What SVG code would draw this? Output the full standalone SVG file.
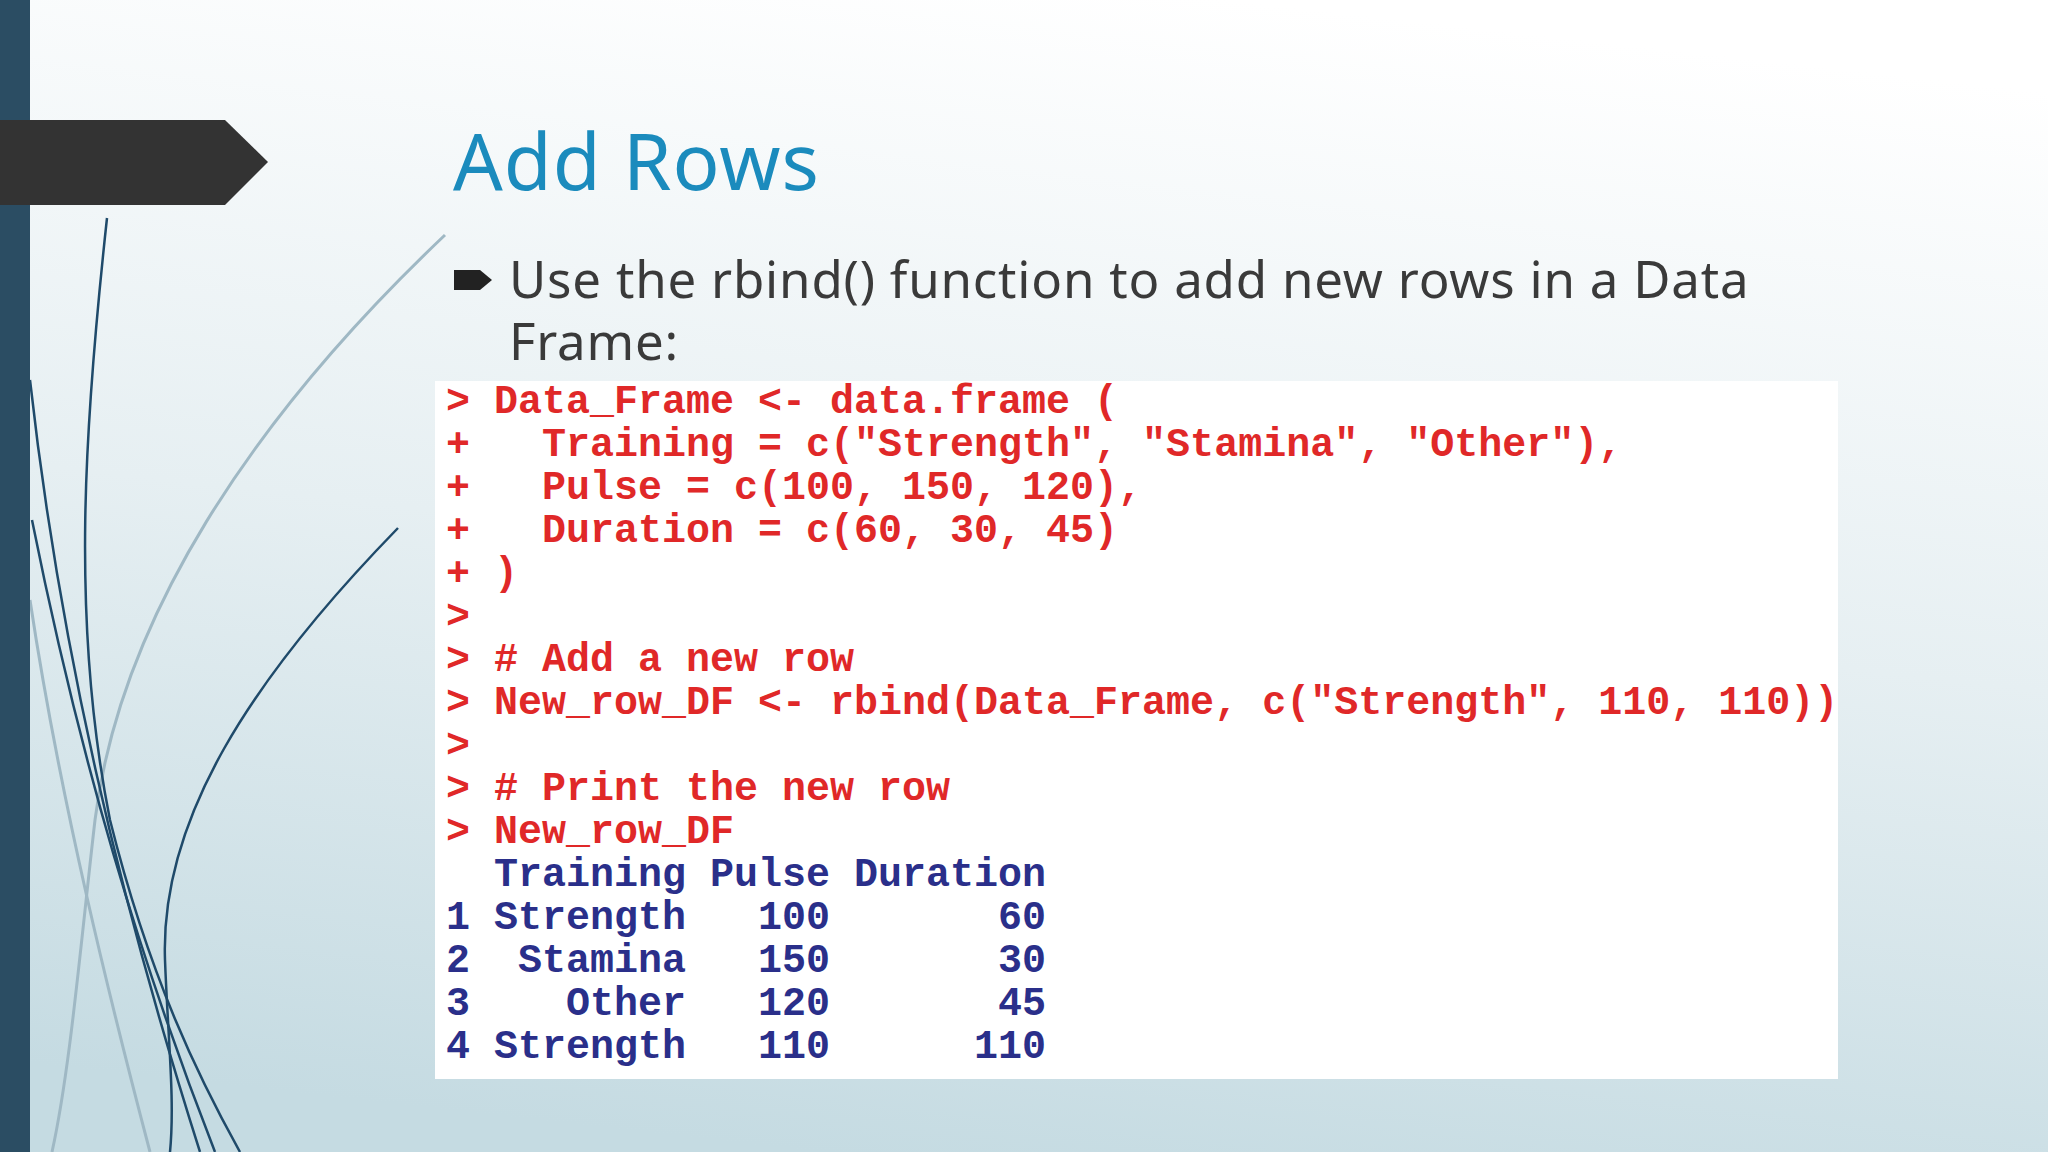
<svg xmlns="http://www.w3.org/2000/svg" width="2048" height="1152" viewBox="0 0 2048 1152">
<defs>
<linearGradient id="bg" x1="0.6" y1="0" x2="0.4" y2="1">
<stop offset="0" stop-color="#ffffff"/>
<stop offset="0.5" stop-color="#e6eff2"/>
<stop offset="1" stop-color="#c5dbe2"/>
</linearGradient>
<style>
.code{font-family:"Liberation Mono","Courier New",monospace;font-size:40px;font-weight:bold;white-space:pre}
.r{fill:#e02828}.b{fill:#2a2f8a}
.dk{fill:none;stroke:#1f4a6a;stroke-width:2.5}
.lt{fill:none;stroke:#9fb8c4;stroke-width:3}
</style>
</defs>
<rect width="2048" height="1152" fill="url(#bg)"/>
<g id="decor">
<path class="lt" d="M445 235 C250 420 120 620 95 820 C80 950 70 1070 52 1152"/>
<path class="lt" d="M30 600 C60 800 110 1000 150 1152"/>
<path class="dk" d="M107 218 C85 420 70 620 110 820 C150 980 200 1080 240 1152"/>
<path class="dk" d="M398 528 C250 680 160 820 165 960 C168 1040 175 1100 170 1152"/>
<path class="dk" d="M30 380 C60 650 120 900 200 1152"/>
<path class="dk" d="M32 520 C80 760 140 960 215 1152"/>
</g>
<rect x="0" y="0" width="30" height="1152" fill="#2b4d63"/>
<polygon points="0,120 225,120 268,162 225,205 0,205" fill="#333333"/>
<g id="title"><text x="453" y="190" font-family="'Noto Sans','DejaVu Sans',sans-serif" font-size="78" letter-spacing="1" fill="#1b8bbd">Add Rows</text></g>
<g id="bullet">
<path d="M454 270 L480 270 L492 280 L480 290 L454 290 Z" fill="#222"/>
<text font-family="'Noto Sans','DejaVu Sans',sans-serif" font-size="51" letter-spacing="0.8" fill="#3a3a3a"><tspan x="509" y="298">Use the rbind() function to add new rows in a Data</tspan><tspan x="509" y="360">Frame:</tspan></text>
</g>
<g id="code">
<rect x="435" y="381" width="1403" height="698" fill="#ffffff"/>
<text class="code r" x="446" y="413">&gt; Data_Frame &lt;- data.frame (</text>
<text class="code r" x="446" y="456">+   Training = c("Strength", "Stamina", "Other"),</text>
<text class="code r" x="446" y="499">+   Pulse = c(100, 150, 120),</text>
<text class="code r" x="446" y="542">+   Duration = c(60, 30, 45)</text>
<text class="code r" x="446" y="585">+ )</text>
<text class="code r" x="446" y="628">&gt;</text>
<text class="code r" x="446" y="671">&gt; # Add a new row</text>
<text class="code r" x="446" y="714">&gt; New_row_DF &lt;- rbind(Data_Frame, c("Strength", 110, 110))</text>
<text class="code r" x="446" y="757">&gt;</text>
<text class="code r" x="446" y="800">&gt; # Print the new row</text>
<text class="code r" x="446" y="843">&gt; New_row_DF</text>
<text class="code b" x="446" y="886">  Training Pulse Duration</text>
<text class="code b" x="446" y="929">1 Strength   100       60</text>
<text class="code b" x="446" y="972">2  Stamina   150       30</text>
<text class="code b" x="446" y="1015">3    Other   120       45</text>
<text class="code b" x="446" y="1058">4 Strength   110      110</text>
</g>
</svg>
